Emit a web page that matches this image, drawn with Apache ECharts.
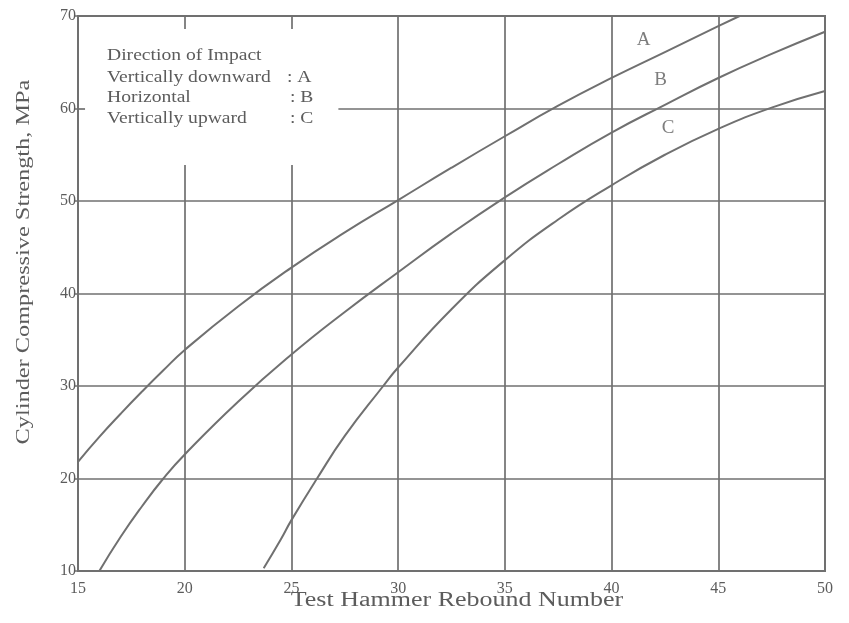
<!DOCTYPE html>
<html><head><meta charset="utf-8">
<script src="https://cdn.jsdelivr.net/npm/echarts@6/dist/echarts.min.js"></script>
<style>html,body{margin:0;padding:0;background:#fff}#c{width:849px;height:623px}</style>
</head><body><div id="c"></div>
<script>
// Data
const curveA = [[15,21.8],[16,24.5],[17,27.0],[18,29.4],[19,31.7],[20,33.9],[22.5,38.6],[25,42.8],[27.5,46.6],[30,50.1],[32.5,53.6],[35,57.0],[37.5,60.3],[40,63.3],[42.5,66.1],[45,68.9],[46.0,70]];
const curveB = [[16,10],[17,13.7],[18,17.0],[19,20],[20,22.6],[22.5,28.3],[25,33.4],[27.5,38.0],[30,42.3],[32.5,46.5],[35,50.4],[37.5,54.0],[40,57.4],[42.5,60.4],[45,63.3],[47.5,65.9],[50,68.3]];
const curveC = [[23.7,10.3],[24.5,13.4],[25,15.5],[26.2,20],[27.5,24.6],[29.3,30],[30,32],[32.5,38.3],[35,43.6],[37.5,48.0],[40,51.7],[42.5,55.0],[45,57.8],[47.5,60.1],[50,61.9]];
const curveLabels = [['A',41.5,67.4],['B',42.3,63.1],['C',42.65,57.9]];
const xTicks = [15,20,25,30,35,40,45,50];
const yTicks = [10,20,30,40,50,60,70];
// grid line segments (data space); lines interrupted by the legend box
const vGrid = [[20,[[70,68.6],[53.9,10]]],[25,[[70,68.6],[53.9,10]]],[30,[[70,10]]],[35,[[70,10]]],[40,[[70,10]]],[45,[[70,10]]]];
const hGrid = [[60,[[15,15.33],[27.2,50]]],[50,[[15,50]]],[40,[[15,50]]],[30,[[15,50]]],[20,[[15,50]]]];
const legendLines = [['Direction of Impact',''],['Vertically downward',': A'],['Horizontal',': B'],['Vertically upward',': C']];
const xName = 'Test Hammer Rebound Number';
const yName = 'Cylinder Compressive Strength, MPa';

const LINE = '#707070', TXT = '#5c5c5c', FONT = '"Liberation Serif", "DejaVu Serif", serif';
const gridSegs = [];
vGrid.forEach(([x, segs]) => segs.forEach(([y1,y2]) => gridSegs.push([{coord:[x,y1]},{coord:[x,y2]}])));
hGrid.forEach(([y, segs]) => segs.forEach(([x1,x2]) => gridSegs.push([{coord:[x1,y]},{coord:[x2,y]}])));

const chart = echarts.init(document.getElementById('c'));
const mk = (name, data) => ({type:'line', name, data, smooth:0.5, symbol:'none', lineStyle:{color:LINE,width:2}, z:3});
const series = [mk('A',curveA), mk('B',curveB), mk('C',curveC)];
series.push({type:'line', data:[], silent:true,
  markLine:{silent:true, symbol:'none', label:{show:false}, lineStyle:{color:LINE,width:1.7,type:'solid'}, data:gridSegs}});
series.push({type:'scatter', symbolSize:0, silent:true,
  data: curveLabels.map(l => ({value:[l[1],l[2]], name:l[0]})),
  label:{show:true, formatter:p=>p.name, position:'inside', color:TXT, fontFamily:FONT, fontSize:19}});

const graphics = [];
const legY = [55, 77, 97.5, 118];
legendLines.forEach((l,i) => {
  graphics.push({type:'text', x:107, y:legY[i], scaleX:1.12, style:{text:l[0], fill:TXT, font:'17.5px '+FONT, verticalAlign:'middle'}});
  if (l[1]) graphics.push({type:'text', x:i===1?287:290, y:legY[i], scaleX:1.12, style:{text:l[1], fill:TXT, font:'17.5px '+FONT, verticalAlign:'middle'}});
});
graphics.push({type:'text', x:457, y:601, scaleX:1.3, style:{text:xName, fill:TXT, font:'20px '+FONT, align:'center', verticalAlign:'middle'}});
graphics.push({type:'text', x:24, y:262, rotation:Math.PI/2, scaleX:1.28, style:{text:yName, fill:TXT, font:'19px '+FONT, align:'center', verticalAlign:'middle'}});

chart.setOption({
  animation:false,
  backgroundColor:'#fff',
  grid:{left:78, right:24, top:16, bottom:52, show:true, borderColor:LINE, borderWidth:2},
  xAxis:{type:'value', min:15, max:50, interval:5,
    axisLine:{show:true, lineStyle:{color:LINE,width:2}}, axisTick:{show:false}, splitLine:{show:false},
    axisLabel:{color:TXT, fontFamily:FONT, fontSize:16, margin:10, formatter:v=>xTicks.includes(v)?String(v):''}},
  yAxis:{type:'value', min:10, max:70, interval:10,
    axisLine:{show:true, lineStyle:{color:LINE,width:2}}, axisTick:{show:true, length:4, lineStyle:{color:LINE,width:1.5}}, splitLine:{show:false},
    axisLabel:{color:TXT, fontFamily:FONT, fontSize:16, margin:2, formatter:v=>yTicks.includes(v)?String(v):''}},
  graphic:graphics,
  series
});
</script></body></html>
